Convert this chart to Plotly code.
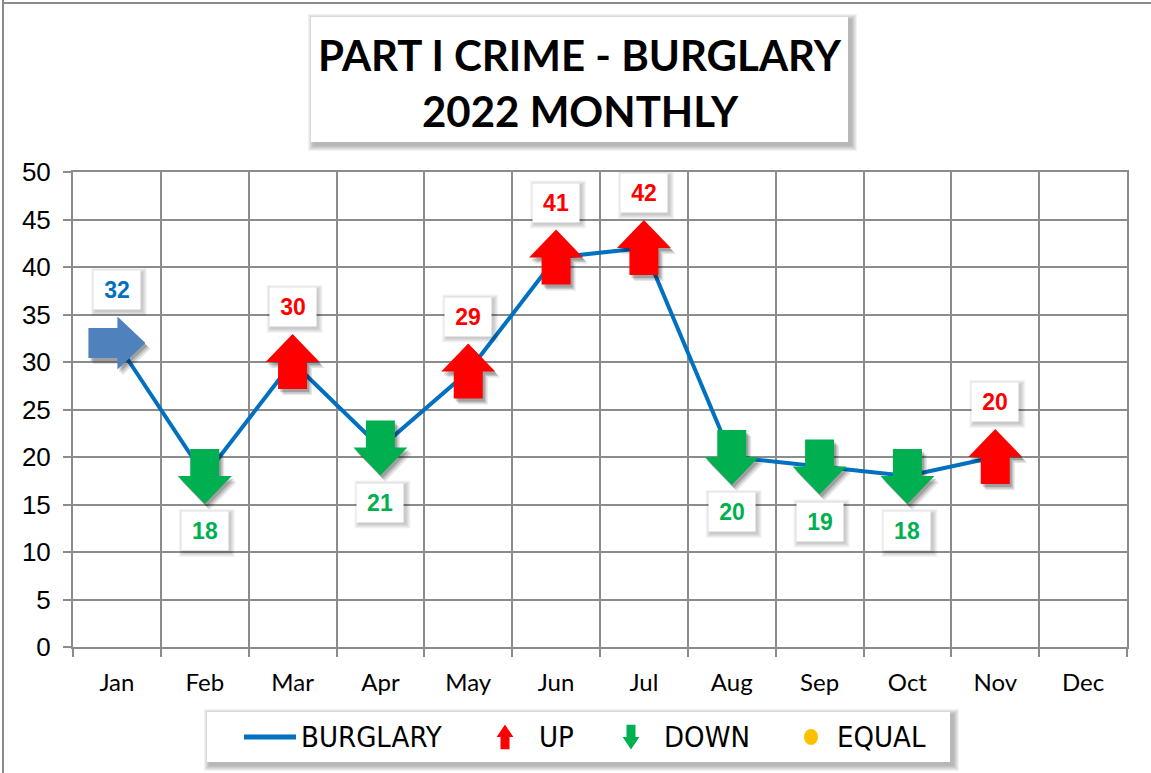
import plotly.graph_objects as go

# ---- data ----
months = ["Jan", "Feb", "Mar", "Apr", "May", "Jun", "Jul", "Aug", "Sep", "Oct", "Nov", "Dec"]
burglary = [32, 18, 30, 21, 29, 41, 42, 20, 19, 18, 20, None]
y_ticks = [0, 5, 10, 15, 20, 25, 30, 35, 40, 45, 50]

LINE_BLUE = "#0070C0"
UP_RED = "#FF0000"
DOWN_GREEN = "#00B050"
FIRST_BLUE = "#4F81BD"
EQUAL_GOLD = "#FFC000"
GRID = "#8C8C8C"

W, H = 1151, 773
PL, PR, PT, PB = 73, 1127, 172, 647  # plot area in pixels


def px(x):
    return (x - PL) / (PR - PL)


def py(y):
    return (PB - y) / (PB - PT)


def direction(i):
    if i == 0:
        return "first"
    prev, cur = burglary[i - 1], burglary[i]
    if cur > prev:
        return "up"
    if cur < prev:
        return "down"
    return "equal"


def arrow_path(kind, s=1.0):
    hw, sw, hl, sl = 27 * s, 14.5 * s, 28 * s, 27 * s
    if kind == "up":
        pts = [(-sw, -sl), (sw, -sl), (sw, 0), (hw, 0), (0, hl), (-hw, 0), (-sw, 0)]
    elif kind == "down":
        pts = [(-sw, sl), (sw, sl), (sw, 0), (hw, 0), (0, -hl), (-hw, 0), (-sw, 0)]
    else:  # right
        pts = [(-28.5, 15), (0.5, 15), (0.5, 26.5), (28.5, 0), (0.5, -26.5), (0.5, -15), (-28.5, -15)]
    return "M " + " L ".join(f"{a:.1f},{b:.1f}" for a, b in pts) + " Z"


def shift_path(path, dx, dy):
    out = []
    for tok in path.split():
        if "," in tok:
            a, b = tok.split(",")
            out.append(f"{float(a) + dx:.1f},{float(b) + dy:.1f}")
        else:
            out.append(tok)
    return " ".join(out)


shapes = []
annotations = []


def soft_shadow_paper(x0, y0, x1, y1, dx=3, dy=3, steps=6, alpha=0.05):
    for k in range(steps, 0, -1):
        shapes.append(dict(type="rect", xref="paper", yref="paper",
                           x0=px(x0 + dx - k), x1=px(x1 + dx + k),
                           y0=py(y1 + dy + k), y1=py(y0 + dy - k),
                           line=dict(width=0), fillcolor=f"rgba(0,0,0,{alpha})",
                           layer="above"))


def white_box_paper(x0, y0, x1, y1):
    soft_shadow_paper(x0, y0, x1, y1)
    shapes.append(dict(type="rect", xref="paper", yref="paper",
                       x0=px(x0), x1=px(x1), y0=py(y1), y1=py(y0),
                       line=dict(width=0), fillcolor="white", layer="above"))


fig = go.Figure()

# ---- main line ----
fig.add_trace(go.Scatter(
    x=list(range(len(months))), y=burglary, mode="lines",
    line=dict(color=LINE_BLUE, width=4), showlegend=False, hoverinfo="skip",
))

# ---- arrows and value labels ----
for i, v in enumerate(burglary):
    if v is None:
        continue
    d = direction(i)
    kind = {"first": "right", "up": "up", "down": "down"}.get(d, "up")
    color = {"first": FIRST_BLUE, "up": UP_RED, "down": DOWN_GREEN}.get(d, EQUAL_GOLD)
    label_color = {"first": LINE_BLUE, "up": UP_RED, "down": DOWN_GREEN}.get(d, EQUAL_GOLD)
    path = arrow_path(kind)
    # drop shadow under arrow
    for k, a in ((5, 0.10), (3.5, 0.14), (2, 0.18)):
        shapes.append(dict(type="path", xref="x", yref="y", xsizemode="pixel", ysizemode="pixel",
                           xanchor=i, yanchor=v, path=shift_path(path, k, -k - 1),
                           fillcolor=f"rgba(0,0,0,{a})", line=dict(width=0), layer="above"))
    shapes.append(dict(type="path", xref="x", yref="y", xsizemode="pixel", ysizemode="pixel",
                       xanchor=i, yanchor=v, path=path, fillcolor=color,
                       line=dict(width=0), layer="above"))

    shift = -55 if d == "down" else (53 if d == "first" else 55)
    bw, bh = 46, 38
    for k in range(5, 0, -1):
        shapes.append(dict(type="rect", xref="x", yref="y", xsizemode="pixel", ysizemode="pixel",
                           xanchor=i, yanchor=v,
                           x0=-bw / 2 + 2 - k, x1=bw / 2 + 2 + k,
                           y0=shift - bh / 2 - 2 - k, y1=shift + bh / 2 - 2 + k,
                           fillcolor="rgba(0,0,0,0.045)", line=dict(width=0), layer="above"))
    annotations.append(dict(
        x=i, y=v, xref="x", yref="y", text=f"<b>{v}</b>", showarrow=False,
        yshift=shift, width=bw, height=bh, bgcolor="white", borderpad=0,
        font=dict(family="Liberation Sans, Arial, sans-serif", size=23, color=label_color),
    ))

# ---- outer frame ----
shapes.append(dict(type="line", xref="paper", yref="paper", x0=px(3), x1=px(3), y0=py(0), y1=py(773),
                   line=dict(color="#8A8A8A", width=2)))
shapes.append(dict(type="line", xref="paper", yref="paper", x0=px(2), x1=px(1151), y0=py(3), y1=py(3),
                   line=dict(color="#8A8A8A", width=2)))

# ---- title box ----
white_box_paper(311, 17, 848, 142)
annotations.append(dict(xref="paper", yref="paper", x=px(580), y=py(55), showarrow=False,
                        text="<b>PART I CRIME - BURGLARY</b>", yanchor="middle",
                        font=dict(family="Lato, Open Sans, sans-serif", size=42, color="black")))
annotations.append(dict(xref="paper", yref="paper", x=px(580), y=py(111), showarrow=False,
                        text="<b>2022 MONTHLY</b>", yanchor="middle",
                        font=dict(family="Lato, Open Sans, sans-serif", size=42, color="black")))

# ---- legend box ----
white_box_paper(207, 712, 950, 762)
LEG_Y = 737
shapes.append(dict(type="line", xref="paper", yref="paper", x0=px(244), x1=px(296),
                   y0=py(LEG_Y), y1=py(LEG_Y), line=dict(color=LINE_BLUE, width=5)))


def legend_arrow(cx, kind, color):
    s = 0.31
    pts = arrow_path(kind, s)
    out = []
    for tok in pts.split():
        if "," in tok:
            a, b = tok.split(",")
            out.append(f"{px(cx + float(a)):.5f},{py(LEG_Y - float(b) * 1.45):.5f}")
        else:
            out.append(tok)
    shapes.append(dict(type="path", xref="paper", yref="paper", path=" ".join(out),
                       fillcolor=color, line=dict(width=0)))


legend_arrow(505, "up", UP_RED)
legend_arrow(631, "down", DOWN_GREEN)
shapes.append(dict(type="circle", xref="paper", yref="paper",
                   x0=px(804), x1=px(818), y0=py(LEG_Y + 8), y1=py(LEG_Y - 8),
                   fillcolor=EQUAL_GOLD, line=dict(width=0)))

leg_font = dict(family="Liberation Sans Narrow, DejaVu Sans Condensed, Arial Narrow, sans-serif",
                size=29, color="black")
for tx, label in ((299, "BURGLARY"), (537, "UP"), (662, "DOWN"), (835, "EQUAL")):
    annotations.append(dict(xref="paper", yref="paper", x=px(tx), y=py(LEG_Y), showarrow=False,
                            text=label, xanchor="left", yanchor="middle", font=leg_font))

fig.update_layout(
    width=W, height=H,
    margin=dict(l=PL, r=W - PR, t=PT, b=H - PB, pad=0),
    paper_bgcolor="white", plot_bgcolor="white",
    shapes=shapes, annotations=annotations, showlegend=False,
    xaxis=dict(
        range=[-0.5, len(months) - 0.5], tickmode="array",
        tickvals=list(range(len(months))), ticktext=months,
        showgrid=False, ticks="", ticklabelstandoff=13,
        tickfont=dict(family="Lato, Open Sans, sans-serif", size=24, color="black"),
        showline=True, linecolor=GRID, linewidth=2, mirror=True, zeroline=False,
        minor=dict(tickmode="array", tickvals=[k - 0.5 for k in range(len(months) + 1)],
                   showgrid=True, gridcolor=GRID, gridwidth=2,
                   ticks="outside", ticklen=8, tickcolor=GRID, tickwidth=2),
    ),
    yaxis=dict(
        range=[0, 50], tickmode="array", tickvals=y_ticks,
        showgrid=True, gridcolor=GRID, gridwidth=2,
        ticks="outside", ticklen=8, tickcolor=GRID, tickwidth=2, ticklabelstandoff=7,
        tickfont=dict(family="Liberation Sans, Arial, sans-serif", size=26, color="black"),
        showline=True, linecolor=GRID, linewidth=2, mirror=True, zeroline=False,
    ),
)

fig.write_html("out.html")
